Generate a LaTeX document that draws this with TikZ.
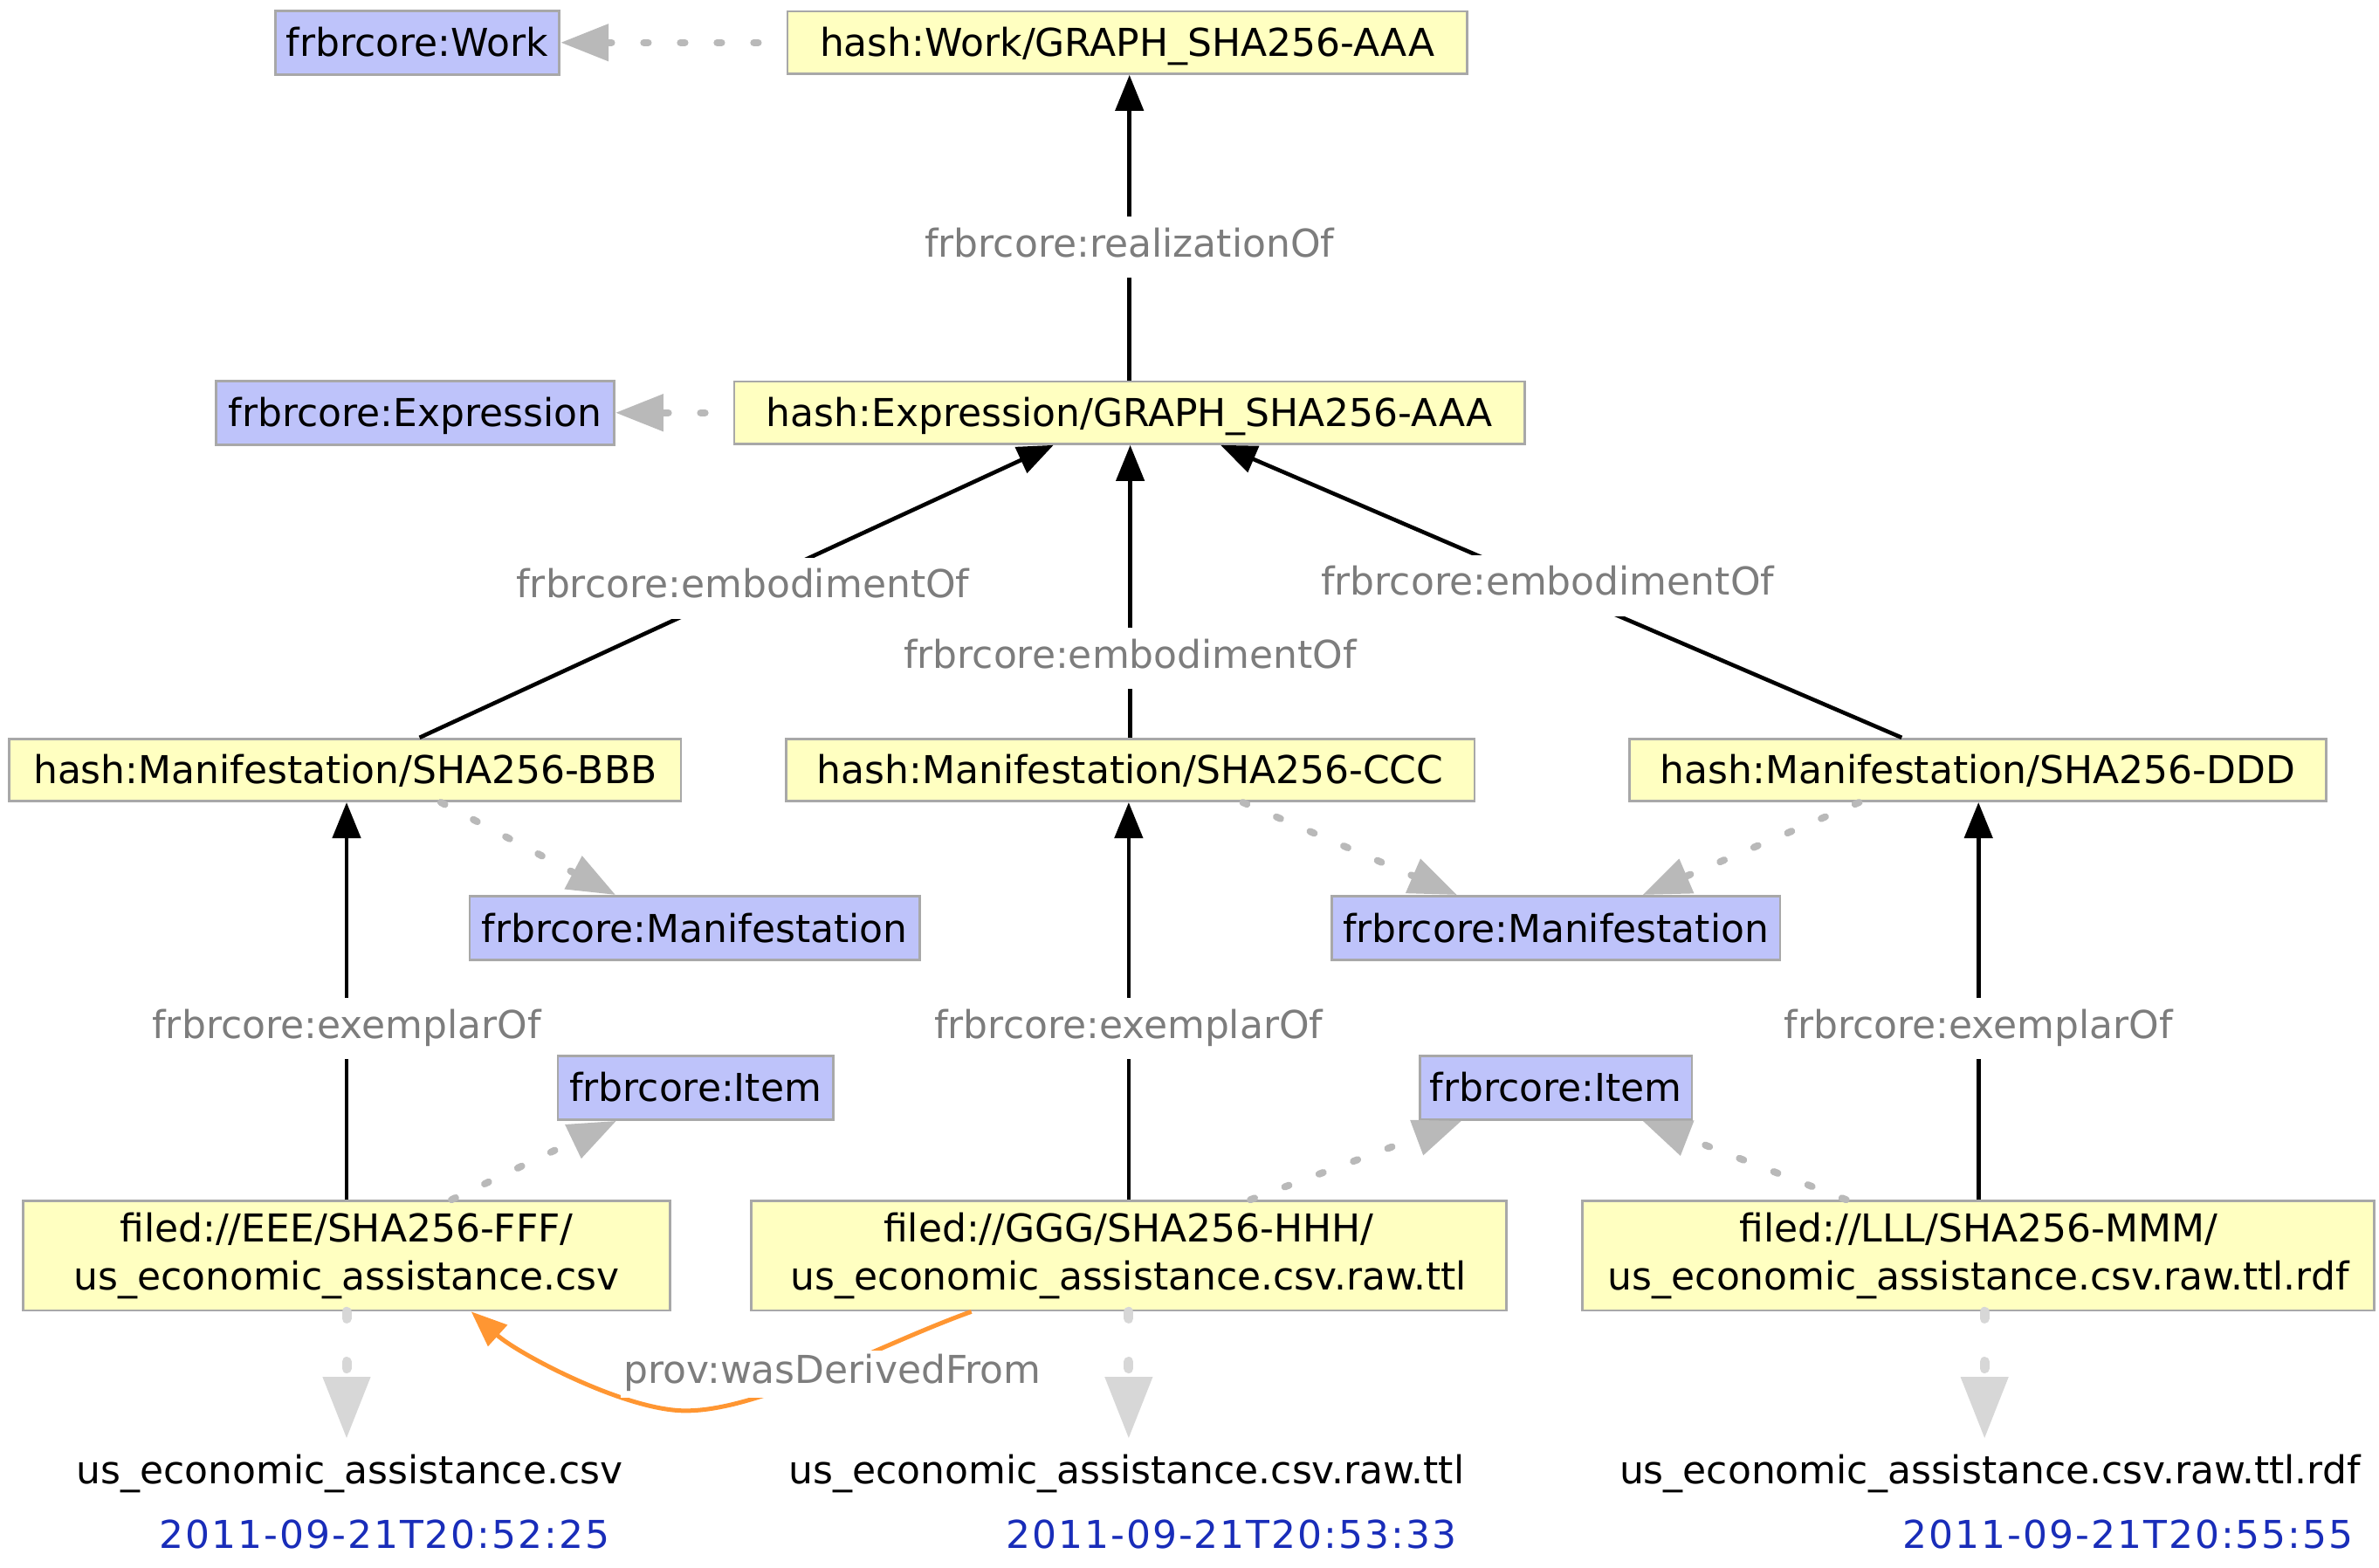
\documentclass[tikz,border=0pt]{standalone}
\usepackage{fontspec}
\setmainfont{DejaVu Sans}
\newfontfamily\datefont[LetterSpace=4.5]{DejaVu Sans}
\usetikzlibrary{arrows.meta,calc}

\definecolor{resfill}{RGB}{255,255,193}
\definecolor{clsfill}{RGB}{190,195,250}
\definecolor{boxline}{RGB}{168,168,168}
\definecolor{typeline}{RGB}{185,185,185}
\definecolor{rawline}{RGB}{215,215,215}
\definecolor{lblgray}{RGB}{125,125,125}
\definecolor{dateblue}{RGB}{25,45,185}
\definecolor{derivorange}{RGB}{255,150,50}
\newcommand{\pxu}{0.4353pt}

\begin{document}
\begin{tikzpicture}[x=\pxu,y=-\pxu,font=\fontsize{11}{13.7}\selectfont,
    every node/.style={inner sep=0pt},
    res/.style={draw=boxline,line width=0.7pt,fill=resfill,minimum height=41*\pxu,text height=8pt,text depth=0pt},
    cls/.style={draw=boxline,line width=0.7pt,fill=clsfill,minimum height=42*\pxu,text height=8pt,text depth=0pt},
    filebox/.style={draw=boxline,line width=0.7pt,fill=resfill,minimum height=72*\pxu,align=center},
    edgelbl/.style={fill=white,text=lblgray,inner xsep=1pt,inner ysep=3.5pt,text height=8pt,text depth=2.5pt},
    link/.style={draw=black,line width=1.15pt,-{Triangle[length=10.25pt,width=8pt]}},
    typeof/.style={draw=typeline,line width=2pt,line cap=round,dash pattern=on 1.3pt off 9.2pt,
      -{Triangle[length=13.75pt,width=10.25pt]}},
    rawlink/.style={draw=rawline,line width=2.75pt,line cap=round,dash pattern=on 2pt off 12.3pt,
      -{Triangle[length=17.75pt,width=13pt]}},
    derived/.style={draw=derivorange,line width=1.25pt,-{Triangle[length=10.25pt,width=8pt]}}]

  \useasboundingbox (0,0) rectangle (1565,1031);

  % classes and resources
  \node[cls, minimum width=187*\pxu] (workcls) at (274.5,28) {frbrcore:Work};
  \node[res, minimum width=447*\pxu] (work) at (741.5,28) {hash:Work/GRAPH\_SHA256-AAA};
  \node[cls, minimum width=262*\pxu] (exprcls) at (273,271.5) {frbrcore:Expression};
  \node[res, minimum width=520*\pxu] (expr) at (743,271.5) {hash:Expression/GRAPH\_SHA256-AAA};

  \node[res, minimum width=442*\pxu] (manB) at (227,506.5) {hash:Manifestation/SHA256-BBB};
  \node[res, minimum width=453*\pxu] (manC) at (743.5,506.5) {hash:Manifestation/SHA256-CCC};
  \node[res, minimum width=458*\pxu] (manD) at (1301,506.5) {hash:Manifestation/SHA256-DDD};
  \node[cls, minimum width=296*\pxu] (mancls1) at (457,610.5) {frbrcore:Manifestation};
  \node[cls, minimum width=295*\pxu] (mancls2) at (1023.5,610.5) {frbrcore:Manifestation};
  \node[cls, minimum width=181*\pxu] (itemcls1) at (457.5,715.5) {frbrcore:Item};
  \node[cls, minimum width=179*\pxu] (itemcls2) at (1023.5,715.5) {frbrcore:Item};

  \node[filebox, minimum width=426*\pxu] (fileE) at (228,826)
    {filed://EEE/SHA256-FFF/\\us\_economic\_assistance.csv};
  \node[filebox, minimum width=497*\pxu] (fileG) at (742.5,826)
    {filed://GGG/SHA256-HHH/\\us\_economic\_assistance.csv.raw.ttl};
  \node[filebox, minimum width=521*\pxu] (fileL) at (1301.5,826)
    {filed://LLL/SHA256-MMM/\\us\_economic\_assistance.csv.raw.ttl.rdf};

  % file names and dates
  \node[anchor=base] (nameE) at (230,976) {us\_economic\_assistance.csv};
  \node[anchor=base] (nameG) at (741,976) {us\_economic\_assistance.csv.raw.ttl};
  \node[anchor=base] (nameL) at (1309,976) {us\_economic\_assistance.csv.raw.ttl.rdf};
  \node[anchor=base, text=dateblue, font=\fontsize{11}{13.7}\datefont] (dateE) at (253,1018.5) {2011-09-21T20:52:25};
  \node[anchor=base, text=dateblue, font=\fontsize{11}{13.7}\datefont] (dateG) at (810,1018.5) {2011-09-21T20:53:33};
  \node[anchor=base, text=dateblue, font=\fontsize{11}{13.7}\datefont] (dateL) at (1400,1018.5) {2011-09-21T20:55:55};

  % rdf:type
  \draw[typeof, shorten <=8pt] (work.west) -- (workcls.east);
  \draw[typeof, shorten <=8pt] (expr.west) -- (exprcls.east);
  \draw[typeof] ($(manB.south)+(63,0)$) -- ($(mancls1.north)+(-52,0)$);
  \draw[typeof] ($(manC.south)+(74,0)$) -- ($(mancls2.north)+(-65,0)$);
  \draw[typeof] ($(manD.south)+(-78,0)$) -- ($(mancls2.north)+(57,0)$);
  \draw[typeof] ($(fileE.north)+(69,0)$) -- ($(itemcls1.south)+(-52,0)$);
  \draw[typeof] ($(fileG.north)+(80,0)$) -- ($(itemcls2.south)+(-62,0)$);
  \draw[typeof] ($(fileL.north)+(-87,0)$) -- ($(itemcls2.south)+(57,0)$);

  % frbr links
  \draw[link] (expr.north) -- node[edgelbl,pos=0.436] {frbrcore:realizationOf} (expr.north |- work.south);
  \draw[link] ($(manB.north)+(49,0)$) -- node[edgelbl,pos=0.51] {frbrcore:embodimentOf} ($(expr.south)+(-50,0)$);
  \draw[link] (manC.north) -- node[edgelbl,pos=0.27] {frbrcore:embodimentOf} (manC.north |- expr.south);
  \draw[link] ($(manD.north)+(-50,0)$) -- node[edgelbl,pos=0.52] {frbrcore:embodimentOf} ($(expr.south)+(60,0)$);
  \draw[link] (fileE.north) -- node[edgelbl,pos=0.43] {frbrcore:exemplarOf} (fileE.north |- manB.south);
  \draw[link] (fileG.north) -- node[edgelbl,pos=0.43] {frbrcore:exemplarOf} (fileG.north |- manC.south);
  \draw[link] (fileL.north) -- node[edgelbl,pos=0.43] {frbrcore:exemplarOf} (fileL.north |- manD.south);

  % raw files
  \draw[rawlink, shorten >=4.3pt] (fileE.south) -- (fileE.south |- nameE.north);
  \draw[rawlink, shorten >=4.3pt] (fileG.south) -- (fileG.south |- nameG.north);
  \draw[rawlink, shorten >=4.3pt] ($(fileL.south)+(4,0)$) -- ($(fileL.south |- nameL.north)+(4,0)$);

  % provenance
  \draw[derived] ($(fileG.south)+(-103.5,0)$) .. controls (577,885) and (501,928) .. (451,928)
    .. controls (411,928) and (340,890) .. ($(fileE.south)+(82,0)$);
  \node[edgelbl, inner ysep=1.5pt] (derivedlbl) at (547.5,903.7) {prov:wasDerivedFrom};

\end{tikzpicture}
\end{document}
